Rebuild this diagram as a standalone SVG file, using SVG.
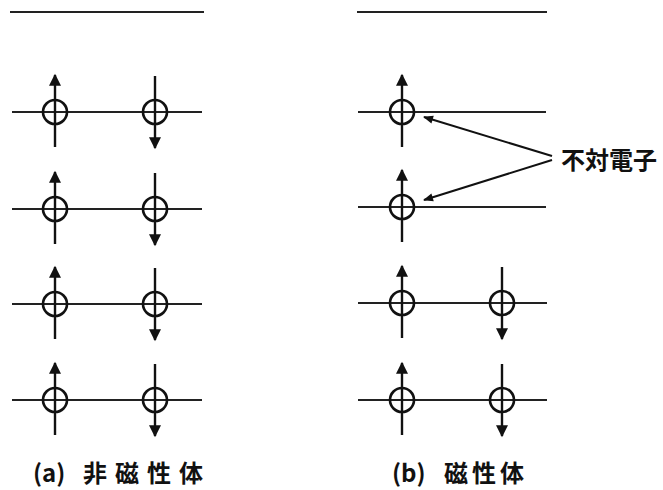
<svg xmlns="http://www.w3.org/2000/svg" width="663" height="490" viewBox="0 0 663 490">
<style>
.lv{stroke:#222;stroke-width:2.2;fill:none}
.ci{stroke:#111;stroke-width:2.6;fill:none}
.sp{stroke:#111;stroke-width:2.4;fill:none}
.co{stroke:#111;stroke-width:2;fill:none}
.tx{font-family:"Noto Sans CJK JP","Noto Sans CJK SC",sans-serif;font-weight:bold;fill:#111}
</style>
<defs>
<marker id="ah" viewBox="0 0 10 10" refX="9" refY="5" markerWidth="6" markerHeight="5" markerUnits="strokeWidth" orient="auto">
<path d="M0,0 L10,5 L0,10 z" fill="#111"/>
</marker>
<marker id="ah2" viewBox="0 0 10 10" refX="9" refY="5" markerWidth="6" markerHeight="5" markerUnits="strokeWidth" orient="auto">
<path d="M0,1 L10,5 L0,9 z" fill="#111"/>
</marker>
<g id="up"><circle class="ci" cx="0" cy="0" r="12"/><line class="sp" x1="0" y1="35" x2="0" y2="-37" marker-end="url(#ah)"/></g>
<g id="dn"><circle class="ci" cx="0" cy="0" r="12"/><line class="sp" x1="0" y1="-36" x2="0" y2="36" marker-end="url(#ah)"/></g>
</defs>
<g id="panel-a">
<line class="lv" x1="10" y1="12" x2="204" y2="12"/>
<g id="a-level1"><line class="lv" x1="12" y1="112" x2="202" y2="112"/><use href="#up" x="55" y="112"/><use href="#dn" x="155" y="112"/></g>
<g id="a-level2"><line class="lv" x1="12" y1="209" x2="202" y2="209"/><use href="#up" x="55" y="209"/><use href="#dn" x="155" y="209"/></g>
<g id="a-level3"><line class="lv" x1="12" y1="304" x2="202" y2="304"/><use href="#up" x="55" y="304"/><use href="#dn" x="155" y="304"/></g>
<g id="a-level4"><line class="lv" x1="12" y1="400" x2="202" y2="400"/><use href="#up" x="55" y="400"/><use href="#dn" x="155" y="400"/></g>
<text class="tx" x="33" y="482" font-size="24"><tspan>(a)</tspan><tspan x="83" letter-spacing="8">非磁性体</tspan></text>
</g>
<g id="panel-b">
<line class="lv" x1="357" y1="12" x2="547" y2="12"/>
<g id="b-level1"><line class="lv" x1="358" y1="112" x2="546" y2="112"/><use href="#up" x="402" y="112"/></g>
<g id="b-level2"><line class="lv" x1="358" y1="207" x2="546" y2="207"/><use href="#up" x="402" y="207"/></g>
<g id="b-level3"><line class="lv" x1="358" y1="303" x2="547" y2="303"/><use href="#up" x="402" y="303"/><use href="#dn" x="502" y="303"/></g>
<g id="b-level4"><line class="lv" x1="358" y1="400" x2="547" y2="400"/><use href="#up" x="402" y="400"/><use href="#dn" x="502" y="400"/></g>
<text class="tx" x="392" y="482" font-size="24"><tspan>(b)</tspan><tspan x="444" letter-spacing="4">磁性体</tspan></text>
</g>
<g id="label-unpaired">
<text class="tx" x="561" y="169" font-size="24">不対電子</text>
</g>
<g id="connectors">
<line class="co" x1="552" y1="156" x2="424" y2="117" marker-end="url(#ah2)"/>
<line class="co" x1="552" y1="160" x2="424" y2="200" marker-end="url(#ah2)"/>
</g>
</svg>
